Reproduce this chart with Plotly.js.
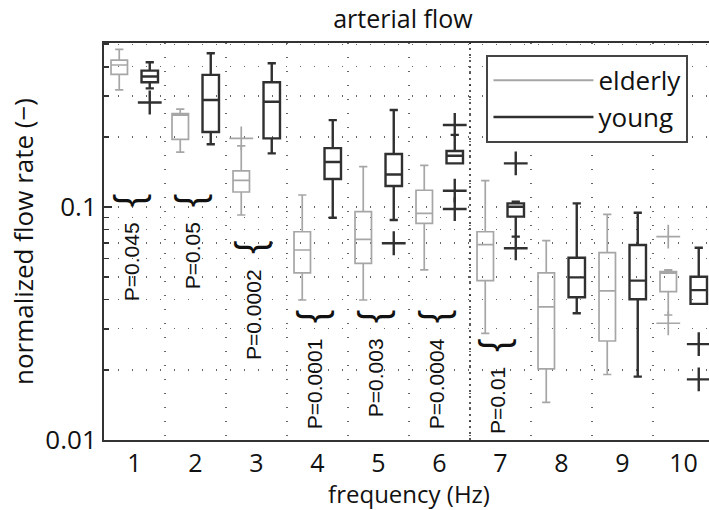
<!DOCTYPE html>
<html>
<head>
<meta charset="utf-8">
<script src="https://cdn.plot.ly/plotly-3.0.1.min.js"></script>
<style>html,body{margin:0;padding:0;overflow:hidden;background:#fff;}</style>
</head>
<body>
<div id="chart" style="width:720px;height:510px;"></div>
<script>
// ---- data ----
const freq = [1, 2, 3, 4, 5, 6, 7, 8, 9, 10];
const tickLabels = ['1', '2', '3', '4', '5', '6', '7', '8', '9', '10'];

// elderly
const elderlyMin = [0.318, 0.172, 0.0924, 0.0399, 0.0399, 0.0537, 0.0287, 0.0145, 0.0191, 0.0344];
const elderlyQ1  = [0.371, 0.195, 0.116, 0.0522, 0.0573, 0.0851, 0.0483, 0.0202, 0.0266, 0.0433];
const elderlyMed = [0.407, 0.248, 0.130, 0.0654, 0.0727, 0.094, 0.0689, 0.0373, 0.0437, 0.052];
const elderlyQ3  = [0.427, 0.252, 0.143, 0.0783, 0.0955, 0.118, 0.0783, 0.0522, 0.0637, 0.0528];
const elderlyMax = [0.475, 0.263, 0.183, 0.1126, 0.149, 0.151, 0.1297, 0.0717, 0.093, 0.0537];
const elderlyOutFreq = [3, 10, 10];
const elderlyOutVal  = [0.197, 0.0746, 0.0317];

// young
const youngMin = [0.323, 0.186, 0.170, 0.090, 0.088, 0.154, 0.0746, 0.035, 0.0187, 0.0384];
const youngQ1  = [0.343, 0.210, 0.197, 0.132, 0.123, 0.154, 0.0909, 0.041, 0.0402, 0.0384];
const youngMed = [0.363, 0.288, 0.283, 0.156, 0.138, 0.166, 0.1003, 0.0499, 0.0483, 0.044];
const youngQ3  = [0.385, 0.369, 0.343, 0.179, 0.169, 0.174, 0.1037, 0.0606, 0.0687, 0.0502];
const youngMax = [0.418, 0.457, 0.414, 0.236, 0.261, 0.204, 0.1054, 0.1037, 0.0945, 0.0669];
const youngOutFreq = [1, 5, 6, 6, 6, 7, 7, 10, 10];
const youngOutVal  = [0.281, 0.0699, 0.225, 0.1175, 0.098, 0.154, 0.0665, 0.0258, 0.0182];

// significance brackets
const sigFreq  = [1, 2, 3, 4, 5, 6, 7];
const sigLevel = [0.107, 0.107, 0.0674, 0.034, 0.034, 0.034, 0.0256];
const sigText  = ['P=0.045', 'P=0.05', 'P=0.0002', 'P=0.0001', 'P=0.003', 'P=0.0004', 'P=0.01'];

// ---- styling ----
const FONT = 'Open Sans, Noto Sans, sans-serif';
const PFONT = 'Liberation Sans, Arial, sans-serif';
const cElder = '#a6a6a6';
const cYoung = '#303030';
const shift = 0.25;   // half distance between the paired boxes (in category units)
const boxW = 0.27;

const traces = [
  {
    type: 'box', name: 'elderly', showlegend: false,
    x: freq.map(f => f - shift),
    q1: elderlyQ1, median: elderlyMed, q3: elderlyQ3,
    lowerfence: elderlyMin, upperfence: elderlyMax,
    width: boxW, whiskerwidth: 0.5, boxpoints: false,
    fillcolor: 'rgba(255,255,255,0)',
    line: {color: cElder, width: 1.7}, hoverinfo: 'skip'
  },
  {
    type: 'box', name: 'young', showlegend: false,
    x: freq.map(f => f + shift),
    q1: youngQ1, median: youngMed, q3: youngQ3,
    lowerfence: youngMin, upperfence: youngMax,
    width: boxW, whiskerwidth: 0.5, boxpoints: false,
    fillcolor: 'rgba(255,255,255,0)',
    line: {color: cYoung, width: 2.4}, hoverinfo: 'skip'
  },
  {
    type: 'scatter', mode: 'markers', showlegend: false,
    x: elderlyOutFreq.map(f => f - shift), y: elderlyOutVal,
    marker: {symbol: 'cross-thin', size: 17, line: {color: cElder, width: 1.7}}
  },
  {
    type: 'scatter', mode: 'markers', showlegend: false,
    x: youngOutFreq.map(f => f + shift), y: youngOutVal,
    marker: {symbol: 'cross-thin', size: 17, line: {color: cYoung, width: 2.4}}
  },
  // legend entries (lines, as in the reference)
  {type: 'scatter', mode: 'lines', name: 'elderly', x: [null], y: [null],
   line: {color: cElder, width: 2}},
  {type: 'scatter', mode: 'lines', name: 'young', x: [null], y: [null],
   line: {color: cYoung, width: 2.5}}
];

const annotations = [];
sigFreq.forEach((f, i) => {
  annotations.push({
    x: f, y: Math.log10(sigLevel[i]), xref: 'x', yref: 'y',
    text: '}', textangle: 90, showarrow: false,
    font: {family: PFONT, size: 40, color: '#111'},
    xanchor: 'center', yanchor: 'middle'
  });
  annotations.push({
    x: f, y: Math.log10(sigLevel[i]), xref: 'x', yref: 'y',
    text: sigText[i], textangle: -90, showarrow: false,
    font: {family: PFONT, size: 21, color: '#111'},
    xanchor: 'center', yanchor: 'top', yshift: -20, xshift: -3
  });
});

const dots = '1px,13px';
const layout = {
  width: 720, height: 510,
  margin: {l: 104, r: 6, t: 43, b: 70},
  paper_bgcolor: '#fff', plot_bgcolor: '#fff',
  font: {family: FONT, color: '#111'},
  title: {text: 'arterial flow', font: {family: FONT, size: 25, color: '#111'},
          xref: 'paper', x: 0.49, xanchor: 'center', yref: 'container', y: 0.962, yanchor: 'middle'},
  showlegend: true,
  legend: {
    x: 0.627, y: 0.97, xanchor: 'left', yanchor: 'top',
    bgcolor: '#fff', bordercolor: '#444', borderwidth: 2,
    font: {family: FONT, size: 26, color: '#111'},
    itemwidth: 100, tracegroupgap: 0
  },
  xaxis: {
    range: [0.5, 10.5], tickvals: freq, ticktext: tickLabels,
    ticks: '', showgrid: false, zeroline: false,
    tickfont: {family: FONT, size: 25, color: '#111'},
    showline: true, mirror: true, linecolor: '#333', linewidth: 2,
    title: {text: 'frequency (Hz)', font: {family: FONT, size: 24, color: '#111'}, standoff: 2},
    minor: {tick0: 0.5, dtick: 1, showgrid: true, gridcolor: '#666', gridwidth: 1.3, griddash: dots, ticks: ''}
  },
  yaxis: {
    type: 'log', range: [-2, -0.296],
    tickvals: [0.01, 0.1], ticktext: ['0.01', '0.1'],
    ticks: 'inside', ticklen: 8, tickcolor: '#333', tickwidth: 1.5,
    showgrid: true, gridcolor: '#666', gridwidth: 1.3, griddash: dots,
    zeroline: false,
    tickfont: {family: FONT, size: 26, color: '#111'},
    showline: true, mirror: true, linecolor: '#333', linewidth: 2,
    title: {text: 'normalized flow rate (\u2212)', font: {family: FONT, size: 26, color: '#111'}, standoff: 4},
    minor: {
      tickvals: [0.02, 0.03, 0.04, 0.05, 0.06, 0.07, 0.08, 0.09, 0.2, 0.3, 0.4, 0.5],
      ticks: 'inside', ticklen: 5, tickcolor: '#333',
      showgrid: true, gridcolor: '#666', gridwidth: 1.3, griddash: dots
    }
  },
  shapes: [{
    type: 'line', xref: 'x', yref: 'paper', x0: 6.5, x1: 6.5, y0: 0, y1: 1,
    line: {color: '#222', width: 1.5, dash: '2px,4px'}
  }],
  annotations: annotations
};

Plotly.newPlot('chart', traces, layout, {displayModeBar: false, staticPlot: true});
</script>
</body>
</html>
